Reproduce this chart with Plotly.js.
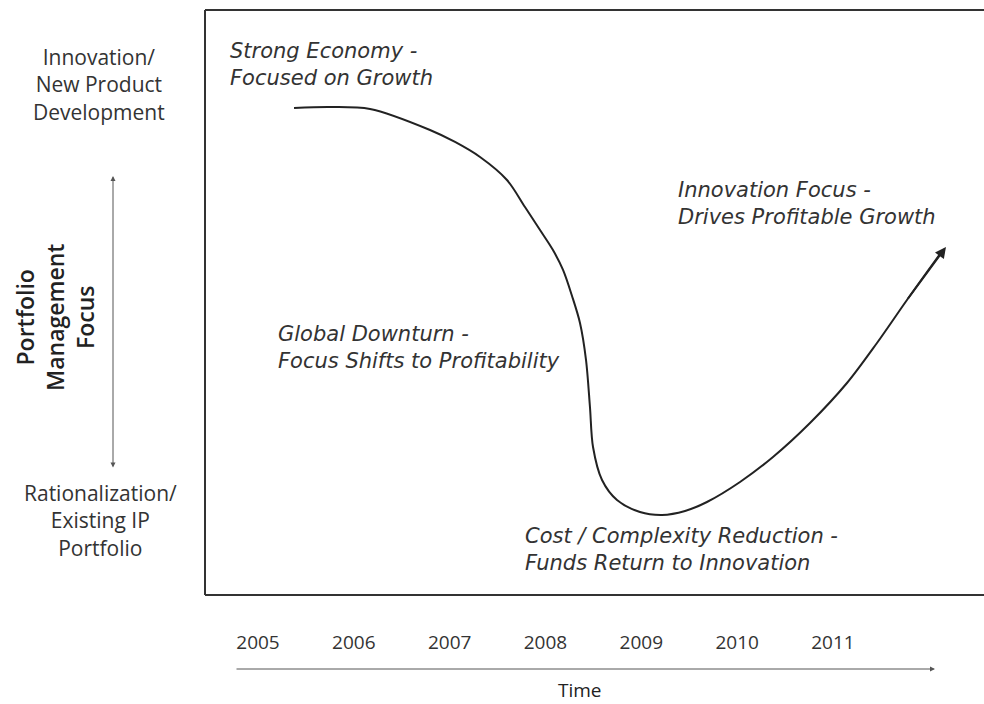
<!DOCTYPE html>
<html>
<head>
<meta charset="utf-8">
<script src="https://cdn.plot.ly/plotly-3.0.1.min.js"></script>
<style>html,body{margin:0;padding:0;background:#fff;}#chart{width:984px;height:704px;}</style>
</head>
<body>
<div id="chart"></div>
<script>
// Data
const years = [2005, 2006, 2007, 2008, 2009, 2010, 2011];
const yearLabels = ["2005", "2006", "2007", "2008", "2009", "2010", "2011"];
const curveX = [2005.376, 2005.751, 2006.169, 2006.795, 2007.056, 2007.317, 2007.598, 2007.786, 2007.943, 2008.078, 2008.183, 2008.277, 2008.360, 2008.423, 2008.464, 2008.496, 2008.590, 2008.746, 2008.986, 2009.216, 2009.456, 2009.685, 2010.030, 2010.374, 2010.760, 2011.146, 2011.459, 2011.772, 2012.117];
const curveY = [83.25, 83.42, 83.08, 79.49, 77.44, 74.87, 70.94, 66.32, 62.39, 58.97, 55.56, 51.11, 46.50, 40.17, 32.14, 25.30, 19.66, 16.24, 14.19, 13.68, 14.36, 15.90, 19.32, 23.59, 29.40, 36.24, 43.08, 50.43, 58.29];
const arrowTip = [2012.179, 59.49];
const phaseLabels = [
  "Strong Economy -<br>Focused on Growth",
  "Global Downturn -<br>Focus Shifts to Profitability",
  "Cost / Complexity Reduction -<br>Funds Return to Innovation",
  "Innovation Focus -<br>Drives Profitable Growth"
];
const topLabel = "Innovation/<br>New Product<br>Development";
const bottomLabel = "Rationalization/<br>Existing IP<br>Portfolio";
const yTitle = "Portfolio<br>Management<br>Focus";
const xTitle = "Time";

// layout geometry (pixels)
const W = 984, H = 704, L = 205, R = 12, T = 10, B = 109;
const pw = W - L - R, ph = H - T - B;
const px = p => (p - L) / pw;
const py = p => (H - B - p) / ph;

const textColor = "#333";
const italicFont = {family: "DejaVu Sans, sans-serif", size: 21, color: textColor, style: "italic"};
const sideFont = {family: "Open Sans, sans-serif", size: 21, color: textColor};

const annotations = [
  {xref: "paper", yref: "paper", x: px(228), y: py(64), xanchor: "left", yanchor: "middle", align: "left", text: phaseLabels[0], showarrow: false, font: italicFont},
  {xref: "paper", yref: "paper", x: px(276), y: py(348), xanchor: "left", yanchor: "middle", align: "left", text: phaseLabels[1], showarrow: false, font: italicFont},
  {xref: "paper", yref: "paper", x: px(523), y: py(549), xanchor: "left", yanchor: "middle", align: "left", text: phaseLabels[2], showarrow: false, font: italicFont},
  {xref: "paper", yref: "paper", x: px(676), y: py(203), xanchor: "left", yanchor: "middle", align: "left", text: phaseLabels[3], showarrow: false, font: italicFont},
  {xref: "paper", yref: "paper", x: px(99), y: py(84), xanchor: "center", yanchor: "middle", align: "center", text: topLabel, showarrow: false, font: sideFont},
  {xref: "paper", yref: "paper", x: px(100), y: py(520), xanchor: "center", yanchor: "middle", align: "center", text: bottomLabel, showarrow: false, font: sideFont},
  {xref: "paper", yref: "paper", x: px(55), y: py(318), xanchor: "center", yanchor: "middle", align: "center", text: yTitle, textangle: -90, showarrow: false, font: {family: "Open Sans, sans-serif", size: 23, color: "#222", weight: 600}},
  // vertical double arrow
  {xref: "paper", yref: "paper", x: px(113), y: py(176), axref: "pixel", ayref: "pixel", ax: 0, ay: 293, text: "", showarrow: true, arrowside: "end+start", arrowhead: 2, startarrowhead: 2, arrowsize: 1, startarrowsize: 1, arrowwidth: 1, arrowcolor: "#555"},
  // time arrow
  {xref: "paper", yref: "paper", x: px(935), y: py(669), ax: -700, ay: 0, text: "", showarrow: true, arrowhead: 2, arrowsize: 1, arrowwidth: 1, arrowcolor: "#555"},
  {xref: "paper", yref: "paper", x: px(580), y: py(690), xanchor: "center", yanchor: "middle", text: xTitle, showarrow: false, font: {family: "Open Sans, sans-serif", size: 19, color: "#222"}},
  // arrowhead on curve
  {xref: "x", yref: "y", axref: "x", ayref: "y", x: arrowTip[0], y: arrowTip[1], ax: curveX[curveX.length - 2], ay: curveY[curveY.length - 2], text: "", showarrow: true, arrowhead: 2, arrowsize: 1.1, arrowwidth: 2, arrowcolor: "#222"}
];

const trace = {
  x: curveX, y: curveY, type: "scatter", mode: "lines",
  line: {color: "#222", width: 2, shape: "spline", smoothing: 0.9},
  hoverinfo: "skip"
};

const x0 = 2005 - (258 - L) / 95.83;
const x1 = 2005 + (W - R - 258) / 95.83;

const boxLine = {color: "#333", width: 2};
const xEdge = px(W + 2);
const layout = {
  width: W, height: H,
  margin: {l: L, r: R, t: T, b: B},
  paper_bgcolor: "#fff", plot_bgcolor: "#fff",
  showlegend: false,
  xaxis: {
    range: [x0, x1], showgrid: false, zeroline: false, showline: false,
    tickmode: "array", tickvals: years, ticktext: yearLabels,
    ticks: "", ticklabelstandoff: 34,
    tickfont: {family: "Open Sans, sans-serif", size: 19, color: textColor}
  },
  yaxis: {
    range: [0, 100], showgrid: false, zeroline: false, showline: false,
    showticklabels: false, ticks: ""
  },
  shapes: [
    {type: "line", xref: "paper", yref: "paper", x0: 0, x1: xEdge, y0: 1, y1: 1, line: boxLine},
    {type: "line", xref: "paper", yref: "paper", x0: 0, x1: xEdge, y0: 0, y1: 0, line: boxLine},
    {type: "line", xref: "paper", yref: "paper", x0: 0, x1: 0, y0: 0, y1: 1, line: boxLine}
  ],
  annotations: annotations
};

Plotly.newPlot("chart", [trace], layout, {displayModeBar: false, staticPlot: true});
</script>
</body>
</html>
